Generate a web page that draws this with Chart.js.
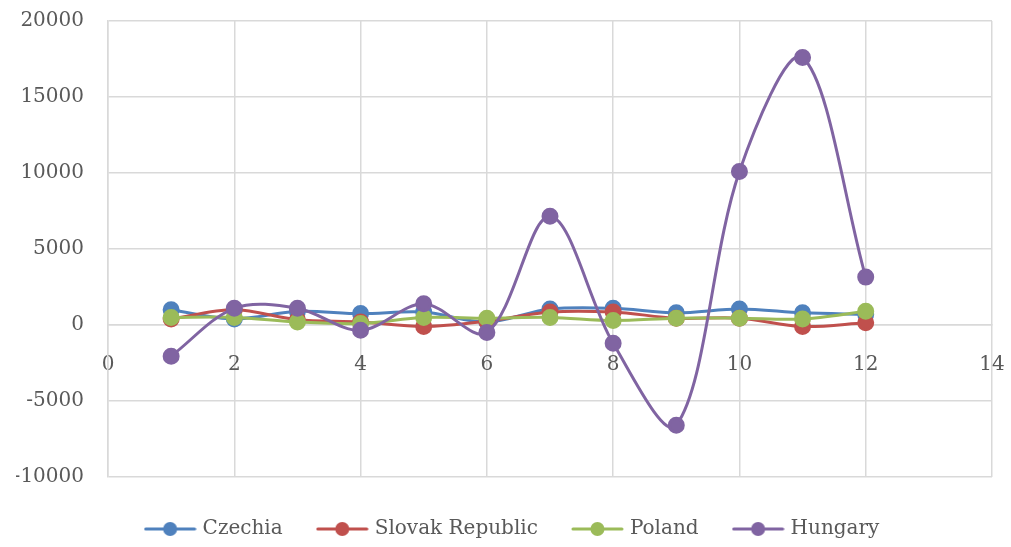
<!DOCTYPE html>
<html>
<head>
<meta charset="utf-8">
<script src="https://cdn.jsdelivr.net/npm/chart.js@4/dist/chart.umd.min.js"></script>
<style>
  html, body { margin: 0; padding: 0; background: #ffffff; }
  #wrap { width: 1011px; height: 547px; }
</style>
</head>
<body>
<div id="wrap"><canvas id="chart" width="1011" height="547"></canvas></div>
<script>
const xValues = [1, 2, 3, 4, 5, 6, 7, 8, 9, 10, 11, 12];
const czechia = [1000, 400, 900, 750, 850, 200, 1050, 1100, 800, 1050, 800, 700];
const slovakia = [400, 1000, 350, 200, -100, 250, 850, 850, 450, 450, -100, 150];
const poland = [500, 500, 200, 100, 500, 450, 500, 300, 450, 450, 400, 900];
const hungary = [-2050, 1100, 1100, -350, 1400, -500, 7150, -1200, -6600, 10100, 17600, 3150];
const seriesNames = ['Czechia', 'Slovak Republic', 'Poland', 'Hungary'];

const colors = {
    blue: '#4f81bd',
    red: '#c0504d',
    green: '#9bbb59',
    purple: '#8064a2',
    text: '#595959',
    grid: '#d9d9d9'
};
const seriesColors = [colors.blue, colors.red, colors.green, colors.purple];
const font = { family: "'DejaVu Serif', serif", size: 20 };

function toPoints(ys) {
    return xValues.map((x, i) => ({ x: x, y: ys[i] }));
}

// legend symbol: short line with a dot in the middle
function legendSymbol(color) {
    const c = document.createElement('canvas');
    c.width = 53;
    c.height = 16;
    const g = c.getContext('2d');
    g.strokeStyle = color;
    g.lineWidth = 3;
    g.lineCap = 'round';
    g.beginPath();
    g.moveTo(2, 8);
    g.lineTo(51, 8);
    g.stroke();
    g.fillStyle = color;
    g.beginPath();
    g.arc(26.5, 8, 7, 0, Math.PI * 2);
    g.fill();
    return c;
}

const allSeries = [czechia, slovakia, poland, hungary];
const datasets = allSeries.map((ys, i) => ({
    label: seriesNames[i],
    data: toPoints(ys),
    borderColor: seriesColors[i],
    backgroundColor: seriesColors[i],
    pointBackgroundColor: seriesColors[i],
    pointBorderColor: seriesColors[i],
    borderWidth: 3,
    pointRadius: 7,
    pointHoverRadius: 7,
    tension: 0.33,
    showLine: true,
    order: allSeries.length - i
}));

const plainNumber = v => String(v);

new Chart(document.getElementById('chart').getContext('2d'), {
    type: 'scatter',
    data: { datasets: datasets },
    options: {
        responsive: false,
        animation: false,
        layout: { padding: { top: 21, right: 0, left: 16, bottom: 0 } },
        plugins: {
            tooltip: { enabled: false },
            legend: {
                position: 'bottom',
                maxHeight: 70,
                title: { display: true, text: ' ', padding: 0, font: { size: 5, lineHeight: 1 } },
                labels: {
                    font: font,
                    color: colors.text,
                    usePointStyle: true,
                    pointStyleWidth: 45,
                    padding: 37,
                    generateLabels: chart => chart.data.datasets.map((ds, i) => ({
                        text: ds.label,
                        fillStyle: seriesColors[i],
                        strokeStyle: seriesColors[i],
                        lineWidth: 0,
                        pointStyle: legendSymbol(seriesColors[i]),
                        hidden: false,
                        datasetIndex: i,
                        fontColor: colors.text
                    }))
                }
            }
        },
        scales: {
            x: {
                type: 'linear',
                position: { y: 0 },
                min: 0,
                max: 14,
                ticks: { stepSize: 2, font: font, color: colors.text, padding: 28, maxRotation: 0, callback: plainNumber },
                grid: { color: colors.grid, lineWidth: 1.5, drawTicks: false },
                border: { color: colors.grid, width: 1.5 },
                afterFit: scale => {
                    scale.paddingLeft = 0;
                    scale.paddingRight = 19;
                    scale.paddingTop = 0;
                    scale.paddingBottom = 0;
                }
            },
            y: {
                type: 'linear',
                min: -10000,
                max: 20000,
                ticks: { stepSize: 5000, font: font, color: colors.text, padding: 24, callback: plainNumber },
                grid: { color: colors.grid, lineWidth: 1.5, drawTicks: false },
                border: { color: colors.grid, width: 1.5 },
                afterFit: scale => {
                    scale.width = 92;
                    scale.paddingTop = 0;
                    scale.paddingBottom = 0;
                }
            }
        }
    }
});
</script>
</body>
</html>
